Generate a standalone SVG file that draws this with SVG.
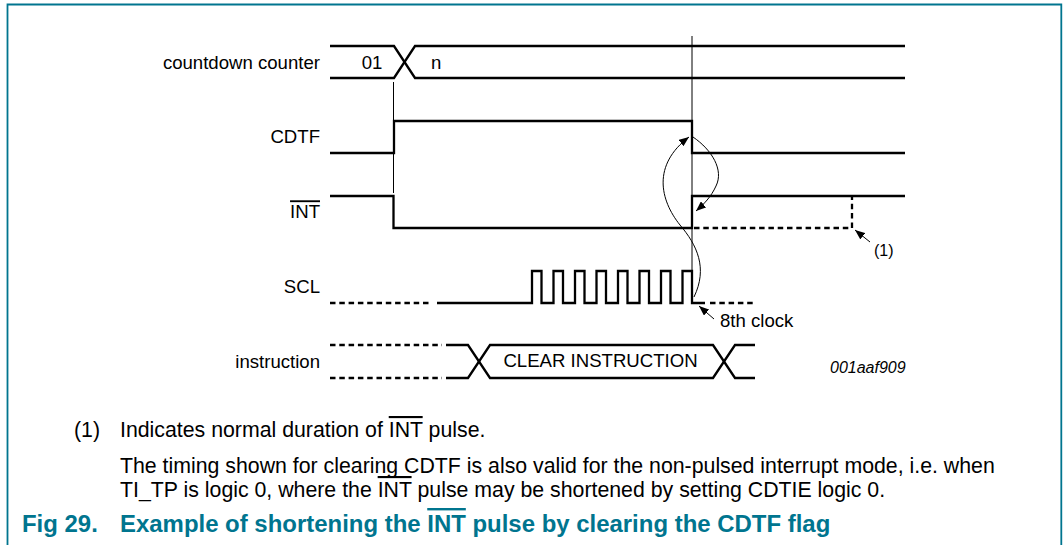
<svg xmlns="http://www.w3.org/2000/svg" width="1063" height="545" viewBox="0 0 1063 545">
<defs>
<style>
.lbl{font-family:"Liberation Sans",Arial,sans-serif;font-size:18.6px;fill:#000}
.note{font-family:"Liberation Sans",Arial,sans-serif;font-size:21.3px;fill:#000}
.cap{font-family:"Liberation Sans",Arial,sans-serif;font-size:23.95px;font-weight:bold;fill:#00758f}
.sig{fill:none;stroke:#000;stroke-width:2.3;stroke-linejoin:miter;stroke-linecap:butt}
.dash{fill:none;stroke:#000;stroke-width:2.3;stroke-dasharray:5.5 3.8}
.thin{fill:none;stroke:#000;stroke-width:1}
.ol{text-decoration:overline}
</style>
<marker id="ah" viewBox="0 0 10 8" refX="10" refY="4" markerWidth="10" markerHeight="8" markerUnits="userSpaceOnUse" orient="auto">
<path d="M0,0 L10,4 L0,8 Z" fill="#000"/>
</marker>
</defs>
<rect width="1063" height="545" fill="#fff"/>
<path d="M7.5,545 V4.5 H1061.3 V545" fill="none" stroke="#00758f" stroke-width="1.8"/>

<g id="countdown-counter">
<text class="lbl" x="320" y="68.5" text-anchor="end">countdown counter</text>
<path class="sig" d="M330,46 H394 L415,78 H905"/>
<path class="sig" d="M330,78 H394 L415,46 H905"/>
<text class="lbl" x="372" y="68.5" text-anchor="middle">01</text>
<text class="lbl" x="431" y="68.5">n</text>
</g>

<g id="cdtf">
<text class="lbl" x="320" y="143.3" text-anchor="end">CDTF</text>
<path class="sig" d="M330,153 H394 V121 H692 V153 H905"/>
</g>

<g id="int">
<text class="lbl" x="320" y="218.3" text-anchor="end"><tspan class="ol">INT</tspan></text>
<path class="sig" d="M330,196 H393.5 V228 H692 V196 H905"/>
<path class="dash" d="M694,228 H852 V196"/>
<text class="lbl" x="874" y="256" style="font-size:16px">(1)</text>
</g>

<g id="scl">
<text class="lbl" x="320" y="293.3" text-anchor="end">SCL</text>
<path class="dash" d="M330,303 H432"/>
<path class="sig" d="M437,303 H532 V271 H541.5 V303 H553.5 V271 H563 V303 H575 V271 H584.5 V303 H596.5 V271 H606 V303 H618 V271 H627.5 V303 H639.5 V271 H649 V303 H661 V271 H670.5 V303 H682.5 V271 H692 V303 H705"/>
<path class="dash" d="M710,303 H755"/>
<text class="lbl" x="720" y="326.7">8th clock</text>
</g>

<g id="instruction">
<text class="lbl" x="320" y="367.7" text-anchor="end">instruction</text>
<path class="dash" d="M330,345 H442 M330,378 H442"/>
<path class="sig" d="M446,345 H468 L490,378 H713 L735,345 H755"/>
<path class="sig" d="M446,378 H468 L490,345 H713 L735,378 H755"/>
<text class="lbl" x="600.5" y="366.7" text-anchor="middle">CLEAR INSTRUCTION</text>
</g>

<g id="connectors">
<path class="thin" d="M393.5,82 V193"/>
<path class="thin" d="M692,36 V303"/>
<path class="thin" d="M694,297 C708,268 697,245 680,225 C660,200 652,165 689,137" marker-end="url(#ah)"/>
<path class="thin" d="M693,137 C712,150 724,170 716,186 C711,197 704,204 696,211" marker-end="url(#ah)"/>
<path class="thin" d="M870,242 L855,230" marker-end="url(#ah)"/>
<path class="thin" d="M714,319 L699,306" marker-end="url(#ah)"/>
</g>

<text class="lbl" x="830" y="372.5" style="font-size:16px;font-style:italic">001aaf909</text>

<g id="notes">
<text class="note" x="74" y="437">(1)</text>
<text class="note" x="120" y="437">Indicates normal duration of <tspan class="ol">INT</tspan> pulse.</text>
<text class="note" x="120" y="473">The timing shown for clearing CDTF is also valid for the non-pulsed interrupt mode, i.e. when</text>
<text class="note" x="120" y="497">TI_TP is logic 0, where the <tspan class="ol">INT</tspan> pulse may be shortened by setting CDTIE logic 0.</text>
</g>

<g id="caption">
<text class="cap" x="22" y="532">Fig 29.</text>
<text class="cap" x="120" y="532">Example of shortening the <tspan class="ol">INT</tspan> pulse by clearing the CDTF flag</text>
</g>
</svg>
